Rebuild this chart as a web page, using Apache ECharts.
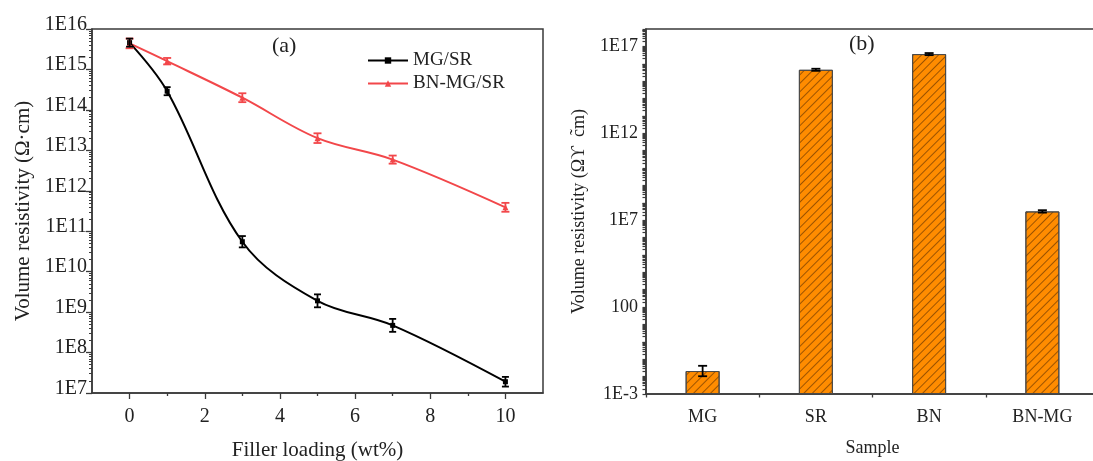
<!DOCTYPE html>
<html><head><meta charset="utf-8">
<script src="https://cdn.jsdelivr.net/npm/echarts@6/dist/echarts.min.js"></script>
<style>html,body{margin:0;padding:0;background:#fff}#c{width:1093px;height:461px}</style>
</head><body><div id="c"></div>
<script>
// ---- data ----
const loading = [0, 1, 3, 5, 7, 10];
const mgSR = [4.6e15, 2.9e14, 5.5e10, 1.9e9, 4.7e8, 1.9e7];
const bnMgSR = [4.4e15, 1.6e15, 2.0e14, 2.0e13, 5.9e12, 3.9e11];
// error half-width in decades (log10 units)
const mgSRErr = [0.10, 0.10, 0.14, 0.16, 0.16, 0.12];
const bnMgSRErr = [0.12, 0.08, 0.11, 0.12, 0.10, 0.11];

const samples = ['MG', 'SR', 'BN', 'BN-MG'];
const sampleVals = [0.021, 4.5e15, 3.6e16, 3.2e7];
const sampleErr = [0.30, 0.06, 0.06, 0.07];

const xMajorTicks = [0, 2, 4, 6, 8, 10];
const xMinorTicks = [1, 3, 5, 7, 9];
const leftYExp = [7, 16];
const rightYExp = [-3, 18];
const rightYLabelExp = [-3, 2, 7, 12, 17];

// ---- helpers ----
const FONT = 'Liberation Serif';
const AX = '#3a3a3a';
function decadeValues(lo, hi) { const a = []; for (let e = lo; e <= hi; e++) a.push(Math.pow(10, e)); return a; }
// minor tick positions expressed as exponents (for a linear overlay axis spanning the same decades)
function minorLogExps(lo, hi) { const a = []; for (let e = lo; e < hi; e++) for (let m = 2; m <= 9; m++) a.push(e + Math.log10(m)); return a; }
function allLogExps(lo, hi) { const a = []; for (let e = lo; e <= hi; e++) a.push(e); return a.concat(minorLogExps(lo, hi)).sort((p, q) => p - q); }
// band boundaries of the category axis, in index units
function bandEdges(n) { const a = []; for (let i = 0; i <= n; i++) a.push(i - 0.5); return a; }
function logLabel(v) {
  const e = Math.round(Math.log10(v));
  return (e >= 0 && e <= 3) ? String(Math.round(Math.pow(10, e))) : '1E' + e;
}
function errData(xs, vals, errs) {
  return vals.map((v, i) => [xs[i], v / Math.pow(10, errs[i]), v * Math.pow(10, errs[i])]);
}
function errRender(capHalf, color, lw) {
  return function (params, api) {
    const x = api.value(0), lo = api.value(1), hi = api.value(2);
    const p1 = api.coord([x, hi]), p2 = api.coord([x, lo]);
    const style = { stroke: color, lineWidth: lw };
    return { type: 'group', children: [
      { type: 'line', shape: { x1: p1[0], y1: p1[1], x2: p2[0], y2: p2[1] }, style },
      { type: 'line', shape: { x1: p1[0] - capHalf, y1: p1[1], x2: p1[0] + capHalf, y2: p1[1] }, style },
      { type: 'line', shape: { x1: p2[0] - capHalf, y1: p2[1], x2: p2[0] + capHalf, y2: p2[1] }, style }
    ] };
  };
}
const axisLine = { show: true, onZero: false, lineStyle: { color: AX, width: 1.5 } };
const noLine = { show: false, onZero: false };
const tickStyle = { color: AX, width: 1.3 };
const hidden = { show: false };

const chart = echarts.init(document.getElementById('c'), null, { renderer: 'canvas' });
const option = {
  animation: false,
  backgroundColor: '#fff',
  textStyle: { fontFamily: FONT },
  grid: [
    { left: 92, top: 29, width: 451, height: 364, show: true, borderColor: AX, borderWidth: 1.5, outerBoundsMode: 'none' },
    { left: 92, top: 29, width: 451, height: 364, outerBoundsMode: 'none' },
    { left: 646, top: 29, width: 453, height: 365, show: true, borderColor: AX, borderWidth: 1.5, outerBoundsMode: 'none' },
    { left: 646, top: 29, width: 453, height: 365, outerBoundsMode: 'none' }
  ],
  xAxis: [
    { gridIndex: 0, type: 'value', position: 'bottom', min: -1, max: 11, axisLine,
      axisTick: { length: 6, lineStyle: tickStyle, customValues: xMajorTicks },
      axisLabel: { customValues: xMajorTicks, fontSize: 20, color: '#222', margin: 14, fontFamily: FONT },
      splitLine: hidden,
      name: 'Filler loading (wt%)', nameLocation: 'middle', nameGap: 47,
      nameTextStyle: { fontSize: 21, color: '#222', fontFamily: FONT } },
    { gridIndex: 1, type: 'value', position: 'bottom', min: -1, max: 11, axisLine: noLine,
      axisTick: { length: 3, lineStyle: tickStyle, customValues: xMinorTicks },
      axisLabel: hidden, splitLine: hidden },
    { gridIndex: 2, type: 'category', position: 'bottom', data: samples, axisLine,
      axisTick: { alignWithLabel: true, length: 6, lineStyle: tickStyle },
      axisLabel: { fontSize: 18, color: '#222', margin: 14, fontFamily: FONT },
      splitLine: hidden,
      name: 'Sample', nameLocation: 'middle', nameGap: 45,
      nameTextStyle: { fontSize: 18, color: '#222', fontFamily: FONT } },
    { gridIndex: 3, type: 'value', position: 'bottom', min: -0.5, max: samples.length - 0.5, axisLine: noLine,
      axisTick: { length: 3.5, lineStyle: tickStyle, customValues: bandEdges(samples.length) },
      axisLabel: hidden, splitLine: hidden }
  ],
  yAxis: [
    { gridIndex: 0, type: 'log', position: 'left', logBase: 10, min: Math.pow(10, leftYExp[0]), max: Math.pow(10, leftYExp[1]), axisLine,
      axisTick: { length: 6, lineStyle: tickStyle, customValues: decadeValues(leftYExp[0], leftYExp[1]) },
      axisLabel: { customValues: decadeValues(leftYExp[0], leftYExp[1]), formatter: logLabel, fontSize: 20, color: '#222',
        margin: 5, fontFamily: FONT, verticalAlign: 'bottom', lineHeight: 9 },
      splitLine: hidden,
      name: 'Volume resistivity (Ω·cm)', nameLocation: 'middle', nameGap: 58,
      nameTextStyle: { fontSize: 21, color: '#222', fontFamily: FONT } },
    { gridIndex: 1, type: 'value', position: 'left', min: leftYExp[0], max: leftYExp[1], axisLine: noLine,
      axisTick: { length: 3, lineStyle: { color: AX, width: 1 }, customValues: minorLogExps(leftYExp[0], leftYExp[1]) },
      axisLabel: hidden, splitLine: hidden },
    { gridIndex: 2, type: 'log', position: 'left', logBase: 10, min: Math.pow(10, rightYExp[0]), max: Math.pow(10, rightYExp[1]),
      startValue: Math.pow(10, rightYExp[0]), axisLine,
      axisTick: { length: 6, lineStyle: tickStyle, customValues: rightYLabelExp.map(e => Math.pow(10, e)) },
      axisLabel: { customValues: rightYLabelExp.map(e => Math.pow(10, e)), formatter: logLabel, fontSize: 18, color: '#222',
        margin: 8, fontFamily: FONT },
      splitLine: hidden,
      name: 'Volume resistivity (Ωϒ  c̃m)', nameLocation: 'middle', nameGap: 58,
      nameTextStyle: { fontSize: 18, color: '#222', fontFamily: FONT } },
    { gridIndex: 3, type: 'value', position: 'left', min: rightYExp[0], max: rightYExp[1], axisLine: noLine,
      axisTick: { length: 3.5, lineStyle: { color: AX, width: 1.2 }, customValues: allLogExps(rightYExp[0], rightYExp[1]) },
      axisLabel: hidden, splitLine: hidden }
  ],
  legend: {
    data: ['MG/SR', 'BN-MG/SR'], orient: 'vertical', left: 362, top: 46,
    itemWidth: 40, itemHeight: 8, itemGap: 4,
    textStyle: { fontSize: 19, color: '#222', fontFamily: FONT }
  },
  graphic: [
    { type: 'text', left: 272, top: 35, style: { text: '(a)', fontSize: 22, fontFamily: FONT, fill: '#222' } },
    { type: 'text', left: 849, top: 33, style: { text: '(b)', fontSize: 22, fontFamily: FONT, fill: '#222' } }
  ],
  series: [
    { name: 'BN-MG/SR', type: 'line', xAxisIndex: 0, yAxisIndex: 0, smooth: 0.35,
      data: loading.map((x, i) => [x, bnMgSR[i]]),
      symbol: 'triangle', symbolSize: 6, lineStyle: { color: '#f2474a', width: 2 }, itemStyle: { color: '#f2474a' } },
    { name: 'MG/SR', type: 'line', xAxisIndex: 0, yAxisIndex: 0, smooth: 0.35,
      data: loading.map((x, i) => [x, mgSR[i]]),
      symbol: 'rect', symbolSize: 5, lineStyle: { color: '#000', width: 2 }, itemStyle: { color: '#000' } },
    { name: 'errBN', type: 'custom', xAxisIndex: 0, yAxisIndex: 0, z: 5,
      renderItem: errRender(4, '#f2474a', 1.8), encode: { x: 0, y: [1, 2] },
      data: errData(loading, bnMgSR, bnMgSRErr) },
    { name: 'errMG', type: 'custom', xAxisIndex: 0, yAxisIndex: 0, z: 5,
      renderItem: errRender(3.5, '#000', 1.8), encode: { x: 0, y: [1, 2] },
      data: errData(loading, mgSR, mgSRErr) },
    { name: 'Samples', type: 'bar', xAxisIndex: 2, yAxisIndex: 2, barWidth: '30%',
      data: sampleVals,
      itemStyle: { color: '#ff8c00', borderColor: '#4a4a4a', borderWidth: 1,
        decal: { symbol: 'rect', symbolSize: 1, dashArrayX: [1, 0], dashArrayY: [1, 5], rotation: -Math.PI / 4,
          color: 'rgba(90,45,0,0.6)' } } },
    { name: 'errSamples', type: 'custom', xAxisIndex: 2, yAxisIndex: 2, z: 5,
      renderItem: errRender(4.5, '#000', 1.8), encode: { x: 0, y: [1, 2] },
      data: errData(samples.map((s, i) => i), sampleVals, sampleErr) }
  ]
};
chart.setOption(option);
</script></body></html>
